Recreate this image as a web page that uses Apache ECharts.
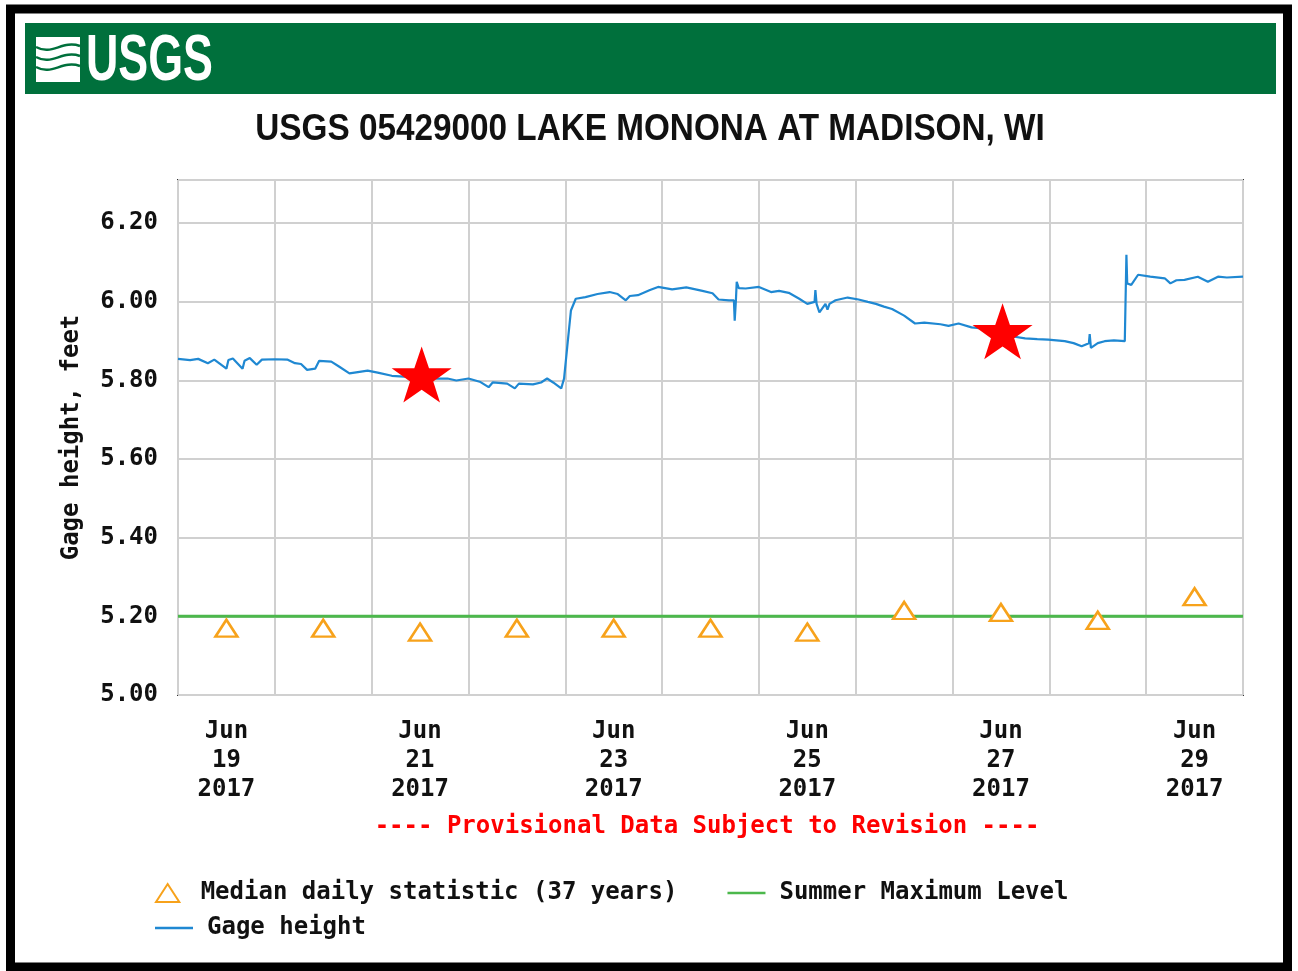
<!DOCTYPE html>
<html>
<head>
<meta charset="utf-8">
<title>USGS 05429000 Lake Monona at Madison, WI</title>
<script src="https://cdn.jsdelivr.net/npm/echarts@6/dist/echarts.min.js"></script>
<style>
  html, body { margin: 0; padding: 0; background: #fff; }
  #gage-chart { width: 1298px; height: 971px; }
</style>
</head>
<body>
<div id="gage-chart"></div>
<script>
// x values are hours since Jun 19 2017 00:00
var gageHours = [0, 3, 5, 7.4, 9, 12, 12.5, 13.6, 16, 16.5, 17.8, 19.5, 20.8, 24, 27.2, 29, 30.5, 32, 34, 35,
    38, 40, 42.5, 45, 47, 49.5, 53, 56, 60, 64, 66.8, 69, 72, 75, 77, 78, 81.6, 83.5, 84.5, 88,
    90, 91.5, 93, 95, 95.7, 96.5, 97.4, 98.6, 101, 104, 107, 109, 111, 112, 114, 117, 119, 122.5, 126, 130,
    132.5, 134, 136.6, 137.8, 138, 138.3, 138.5, 139, 140.7, 144, 147, 149, 151.4, 154, 156, 157.8, 158, 158.3, 159, 160.5,
    161, 161.5, 163, 166, 168.7, 171, 173, 175, 177, 180, 182.7, 185, 189, 191, 193.5, 196.7, 200, 204, 207, 210,
    213, 215.7, 219.8, 222, 224, 225.8, 226, 226.3, 228, 229.7, 232, 234.7, 235, 235.1, 235.3, 236.3, 238, 241, 244.6, 246,
    247.5, 249.5, 252.8, 255.3, 257.8, 260, 264];
var gageFeet = [5.855, 5.852, 5.855, 5.844, 5.853, 5.83, 5.852, 5.856, 5.83, 5.85, 5.857, 5.84, 5.853, 5.854, 5.853, 5.844, 5.842, 5.827, 5.83, 5.85,
    5.848, 5.835, 5.818, 5.822, 5.825, 5.82, 5.812, 5.81, 5.81, 5.805, 5.805, 5.80, 5.805, 5.796, 5.783, 5.795, 5.792, 5.78, 5.792, 5.79,
    5.795, 5.805, 5.795, 5.78, 5.805, 5.887, 5.978, 6.008, 6.012, 6.02, 6.025, 6.02, 6.004, 6.015, 6.017, 6.03, 6.038, 6.032, 6.037, 6.028,
    6.022, 6.006, 6.004, 6.004, 5.952, 6.004, 6.051, 6.035, 6.034, 6.038, 6.025, 6.028, 6.023, 6.008, 5.995, 6.0, 6.03, 5.995, 5.973, 5.995,
    5.98, 5.995, 6.004, 6.011, 6.006, 6.0, 5.995, 5.988, 5.982, 5.965, 5.945, 5.947, 5.943, 5.939, 5.945, 5.935, 5.932, 5.925, 5.912, 5.907,
    5.905, 5.904, 5.90, 5.895, 5.887, 5.895, 5.918, 5.883, 5.895, 5.90, 5.902, 5.90, 5.905, 6.12, 6.047, 6.043, 6.069, 6.064, 6.06, 6.047,
    6.055, 6.056, 6.064, 6.051, 6.064, 6.062, 6.064];

var medianHours = [12, 36, 60, 84, 108, 132, 156, 180, 204, 228, 252];
var medianFeet = [5.17, 5.17, 5.16, 5.17, 5.17, 5.17, 5.16, 5.215, 5.21, 5.19, 5.25];

var summerMaxFeet = 5.20;

var starHours = [60.4, 204.4];
var starFeet = [5.815, 5.925];

var labelHours = [12, 60, 108, 156, 204, 252];
var labelDays = ['19', '21', '23', '25', '27', '29'];

var mono = '"DejaVu Sans Mono", "Liberation Mono", monospace';
var starPath = 'path://M50,0 L61.8,35.1 L98.1,35.1 L68.6,56.7 L79.4,91 L50,70 L20.6,91 L31.4,56.7 L1.9,35.1 L38.2,35.1 Z';
var lineIcon = 'path://M0,0 L38,0 L38,2.5 L0,2.5 Z';
var triIcon = 'path://M11,0 L22,17 L0,17 Z';

function pairs(xs, ys) {
    return xs.map(function (x, i) { return [x, ys[i]]; });
}

var legendText = {
    fontFamily: mono,
    fontSize: 24,
    fontWeight: 'bold',
    color: '#111',
    padding: [0, 0, 0, 9]
};

var gageChart = echarts.init(document.getElementById('gage-chart'));

var option = {
    backgroundColor: '#fff',
    animation: false,
    graphic: [
        {
            type: 'rect', z: -10,
            shape: { x: 10.5, y: 9, width: 1277, height: 958 },
            style: { fill: '#fff', stroke: '#000', lineWidth: 9 }
        },
        {
            type: 'rect',
            shape: { x: 25, y: 23, width: 1251, height: 71 },
            style: { fill: '#00703c' }
        },
        {
            type: 'rect',
            shape: { x: 36, y: 37, width: 44, height: 45 },
            style: { fill: '#fff' }
        },
        {
            type: 'bezierCurve',
            shape: { x1: 36, y1: 47, cpx1: 52, cpy1: 56, cpx2: 62, cpy2: 40, x2: 80, y2: 46 },
            style: { stroke: '#00703c', lineWidth: 2.5, fill: null }
        },
        {
            type: 'bezierCurve',
            shape: { x1: 36, y1: 57, cpx1: 52, cpy1: 66, cpx2: 62, cpy2: 50, x2: 80, y2: 56 },
            style: { stroke: '#00703c', lineWidth: 2.5, fill: null }
        },
        {
            type: 'bezierCurve',
            shape: { x1: 36, y1: 67, cpx1: 52, cpy1: 76, cpx2: 62, cpy2: 60, x2: 80, y2: 66 },
            style: { stroke: '#00703c', lineWidth: 2.5, fill: null }
        },
        {
            type: 'text',
            x: 86, y: 30,
            scaleX: 0.7,
            style: {
                text: 'USGS',
                fill: '#fff',
                font: 'bold 64px "Liberation Sans", sans-serif'
            }
        },
        {
            type: 'text',
            x: 650, y: 130,
            scaleX: 0.9,
            style: {
                text: 'USGS 05429000 LAKE MONONA AT MADISON, WI',
                fill: '#111',
                font: 'bold 37px "Liberation Sans", sans-serif',
                textAlign: 'center',
                textVerticalAlign: 'middle'
            }
        },
        {
            type: 'text',
            x: 707, y: 827,
            style: {
                text: '---- Provisional Data Subject to Revision ----',
                fill: '#ff0000',
                font: 'bold 24px ' + mono,
                textAlign: 'center',
                textVerticalAlign: 'middle'
            }
        }
    ],
    legend: [
        {
            left: 150,
            top: 876,
            itemWidth: 38,
            itemHeight: 18,
            itemGap: 50,
            data: [
                { name: 'Median daily statistic (37 years)', icon: triIcon },
                { name: 'Summer Maximum Level', icon: lineIcon }
            ],
            textStyle: legendText
        },
        {
            left: 150,
            top: 911,
            itemWidth: 38,
            itemHeight: 18,
            data: [
                { name: 'Gage height', icon: lineIcon }
            ],
            textStyle: legendText
        }
    ],
    grid: {
        left: 178,
        top: 180,
        right: 55,
        bottom: 276,
        show: true,
        borderColor: '#333',
        borderWidth: 2
    },
    xAxis: {
        type: 'value',
        min: 0,
        max: 264,
        interval: 24,
        axisLine: { show: false },
        axisTick: { show: false },
        splitLine: { show: true, lineStyle: { color: '#d0d0d0', width: 2 } },
        axisLabel: {
            customValues: labelHours,
            margin: 22,
            fontFamily: mono,
            fontSize: 24,
            fontWeight: 'bold',
            color: '#111',
            lineHeight: 29,
            formatter: function (v) {
                var i = labelHours.indexOf(v);
                return i < 0 ? '' : 'Jun\n' + labelDays[i] + '\n2017';
            }
        }
    },
    yAxis: {
        type: 'value',
        min: 5,
        max: 6.31,
        interval: 0.2,
        name: 'Gage height, feet',
        nameLocation: 'middle',
        nameGap: 94,
        nameTextStyle: {
            fontFamily: mono,
            fontSize: 24,
            fontWeight: 'bold',
            color: '#111'
        },
        axisLine: { show: false },
        axisTick: { show: false },
        splitLine: { show: true, lineStyle: { color: '#d0d0d0', width: 2 } },
        axisLabel: {
            showMaxLabel: false,
            margin: 20,
            fontFamily: mono,
            fontSize: 24,
            fontWeight: 'bold',
            color: '#111',
            formatter: function (v) { return v.toFixed(2); }
        }
    },
    series: [
        {
            name: 'Summer Maximum Level',
            type: 'line',
            symbol: 'none',
            data: [[0, summerMaxFeet], [264, summerMaxFeet]],
            lineStyle: { color: '#4cb84c', width: 3 },
            itemStyle: { color: '#4cb84c' },
            z: 2
        },
        {
            name: 'Gage height',
            type: 'line',
            symbol: 'none',
            data: pairs(gageHours, gageFeet),
            lineStyle: { color: '#1f88d2', width: 2.2 },
            itemStyle: { color: '#1f88d2' },
            z: 3
        },
        {
            name: 'Median daily statistic (37 years)',
            type: 'scatter',
            symbol: 'triangle',
            symbolSize: [22, 17],
            data: pairs(medianHours, medianFeet),
            itemStyle: { color: '#fff', borderColor: '#f7a21b', borderWidth: 2.5, opacity: 1 },
            z: 4
        },
        {
            name: 'Stars',
            type: 'scatter',
            symbol: starPath,
            symbolSize: [60, 56],
            data: pairs(starHours, starFeet),
            itemStyle: { color: '#ff0000', opacity: 1 },
            z: 5
        }
    ]
};

gageChart.setOption(option);
</script>
</body>
</html>
